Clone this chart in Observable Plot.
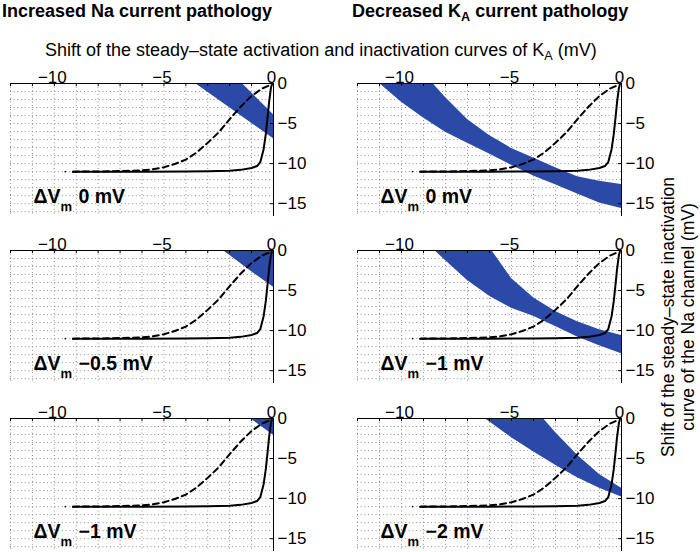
<!DOCTYPE html>
<html><head><meta charset="utf-8">
<script src="https://cdn.jsdelivr.net/npm/d3@7"></script>
<script src="https://cdn.jsdelivr.net/npm/@observablehq/plot@0.6"></script>
<style>
body{margin:0;background:#fff;font-family:"Liberation Sans",Arial,sans-serif;}
#wrap{position:relative;width:700px;height:552px;overflow:hidden;background:#fff;}
.abs{position:absolute;white-space:nowrap;line-height:1;color:#000;}
.coltitle{font-weight:bold;font-size:18px;top:2px;}
.sub{font-size:0.7em;position:relative;top:0.35em;}
#xtitle{font-size:18px;left:45px;top:41px;}
#ytitle{font-size:17.5px;line-height:20px;width:400px;text-align:center;left:478px;top:297px;transform:rotate(-90deg);transform-origin:200px 20px;}
svg{position:absolute;}
</style></head>
<body><div id="wrap">
<div class="abs coltitle" style="left:2px;">Increased Na current pathology</div>
<div class="abs coltitle" style="left:352px;">Decreased K<span class="sub">A</span> current pathology</div>
<div class="abs" id="xtitle">Shift of the steady–state activation and inactivation curves of K<span class="sub">A</span> (mV)</div>
<div class="abs" id="ytitle">Shift of the steady–state inactivation<br>curve of the Na channel (mV)</div>
</div>
<script>
// axes
const xMinorTicks = [-12,-11,-10,-9,-8,-7,-6,-5,-4,-3,-2,-1,0];
const xMajorTicks = [-10,-5,0];
const yMajorTicks = [0,-5,-10,-15];
const yGrid = [-1,-2,-3,-4,-5,-6,-7,-8,-9,-10,-11,-12,-13,-14,-15,-16];
const xGrid = [-12,-11,-10,-9,-8,-7,-6,-5,-4,-3,-2,-1];

// curves (same in every panel)
const solidX = [-9.15,-6,-4,-3,-2,-1.5,-1.0,-0.75,-0.6,-0.45,-0.35,-0.27,-0.2,-0.12,-0.06];
const solidY = [-11.0,-11.0,-10.98,-10.95,-10.88,-10.78,-10.55,-10.3,-9.8,-8.2,-6.3,-4.2,-2.3,-0.6,0];
const dashX = [-9.15,-8,-7,-6,-5.5,-5,-4.5,-4,-3.5,-3,-2.5,-2,-1.5,-1,-0.5,-0.15];
const dashY = [-11.0,-10.98,-10.93,-10.85,-10.7,-10.45,-10.05,-9.5,-8.6,-7.4,-6.1,-4.45,-2.9,-1.55,-0.6,-0.2];
const startDotX = [-9.5];
const startDotY = [-11.0];

// bands: Increased Na current pathology
const na0X = [-4,-3,-2,-1,0];
const na0Lower = [0.85,-1.09,-3.02,-4.96,-6.9];
const na0Upper = [7.0,4.3,1.56,-1.17,-3.9];
const na05X = [-3,-2,-1,0];
const na05Lower = [1.4,-0.6,-2.65,-4.6];
const na05Upper = [2,2,2,2];
const na1X = [-2,-1,0];
const na1Lower = [1.9,-0.1,-2.1];
const na1Upper = [2,2,2];

// bands: Decreased KA current pathology
const ka0X = [-12,-11,-10,-9,-8,-7,-6,-5,-4,-3,-2,-1,0];
const ka0Upper = [10.0,7.0,4.2,1.3,-1.75,-4.5,-6.5,-8.1,-9.3,-10.5,-11.65,-12.2,-12.6];
const ka0Lower = [2.2,0,-2.35,-4.3,-6.1,-7.45,-8.8,-10.2,-11.55,-12.65,-13.8,-14.9,-15.6];
const ka1X = [-9,-8,-7,-6,-5,-4,-3,-2,-1,0];
const ka1Upper = [12,8,4.2,0.4,-3.5,-5.9,-7.6,-8.9,-9.9,-10.6];
const ka1Lower = [1.3,-1.25,-3.75,-5.7,-7.2,-8.2,-9.5,-10.8,-11.9,-12.9];
const ka2X = [-7,-6,-5,-4,-3,-2,-1,0];
const ka2Upper = [10.4,7.4,4.4,1.4,-1.75,-4.6,-7.0,-8.7];
const ka2Lower = [1.5,-0.4,-2.4,-4.15,-5.85,-7.4,-8.7,-9.8];

const dvText = "ΔV";
const dvSub = "m";
const naLabels = ["0 mV","−0.5 mV","−1 mV"];
const kaLabels = ["0 mV","−1 mV","−2 mV"];

const BLUE = "#2b4aa8";
const FRAME_H = 133;
const idx = a => a.map((_, i) => i);

function panel(bx, lo, up, label, mLeft, mRight) {
  const frameW = 350 - mLeft - mRight;
  return Plot.plot({
    width: 350, height: 156,
    marginTop: 22, marginBottom: 1, marginLeft: mLeft, marginRight: mRight,
    x: {domain: [-12, 0], axis: null},
    y: {domain: [-16.6, 0], axis: null},
    style: {fontFamily: "'Liberation Sans', Arial, sans-serif", fontSize: "17px", background: "transparent", overflow: "visible", color: "black"},
    marks: [
      Plot.ruleX(xGrid, {x: d => d, stroke: "#8c8c8c", strokeWidth: 1, strokeDasharray: "1,2.7"}),
      Plot.ruleY(yGrid, {y: d => d, stroke: "#8c8c8c", strokeWidth: 1, strokeDasharray: "1,2.7"}),
      Plot.areaY(idx(bx), {x: i => bx[i], y1: i => lo[i], y2: i => up[i], fill: BLUE, clip: true}),
      Plot.line(idx(dashX), {x: i => dashX[i], y: i => dashY[i], stroke: "black", strokeWidth: 2, strokeDasharray: "6,4", clip: true}),
      Plot.line(idx(solidX), {x: i => solidX[i], y: i => solidY[i], stroke: "black", strokeWidth: 2, clip: true}),
      Plot.dot(idx(startDotX), {x: i => startDotX[i], y: i => startDotY[i], r: 0.8, fill: "black", stroke: null}),
      Plot.ruleY([0], {y: d => d, stroke: "black", strokeWidth: 1}),
      Plot.ruleX([0], {x: d => d, stroke: "black", strokeWidth: 1}),
      Plot.tickX(xMinorTicks, {x: d => d, stroke: "black", insetBottom: FRAME_H - 3}),
      Plot.tickY(yMajorTicks, {y: d => d, stroke: "black", insetLeft: frameW - 3}),
      Plot.axisX({anchor: "top", ticks: xMajorTicks, tickSize: 0, tickPadding: 1, dx: -2, label: null, fontSize: 17}),
      Plot.axisY({anchor: "right", ticks: yMajorTicks, tickSize: 0, tickPadding: 4, label: null, fontSize: 17}),
      Plot.text([dvText], {frameAnchor: "bottom-left", dx: 23, dy: -14, textAnchor: "start", lineAnchor: "bottom", fontWeight: "bold", fontSize: 19.5}),
      Plot.text([dvSub], {frameAnchor: "bottom-left", dx: 50, dy: -6, textAnchor: "start", lineAnchor: "bottom", fontWeight: "bold", fontSize: 13}),
      Plot.text([label], {frameAnchor: "bottom-left", dx: 68, dy: -14, textAnchor: "start", lineAnchor: "bottom", fontWeight: "bold", fontSize: 19.5})
    ]
  });
}

const wrap = document.getElementById("wrap");
const tops = [61, 228, 396];
const naBands = [[na0X, na0Lower, na0Upper], [na05X, na05Lower, na05Upper], [na1X, na1Lower, na1Upper]];
const kaBands = [[ka0X, ka0Lower, ka0Upper], [ka1X, ka1Lower, ka1Upper], [ka2X, ka2Lower, ka2Upper]];
for (let r = 0; r < 3; r++) {
  const a = panel(naBands[r][0], naBands[r][1], naBands[r][2], naLabels[r], 10, 77);
  a.style.left = "0px"; a.style.top = tops[r] + "px";
  wrap.appendChild(a);
  const b = panel(kaBands[r][0], kaBands[r][1], kaBands[r][2], kaLabels[r], 7, 79);
  b.style.left = "350px"; b.style.top = tops[r] + "px";
  wrap.appendChild(b);
}
</script>
</body></html>
